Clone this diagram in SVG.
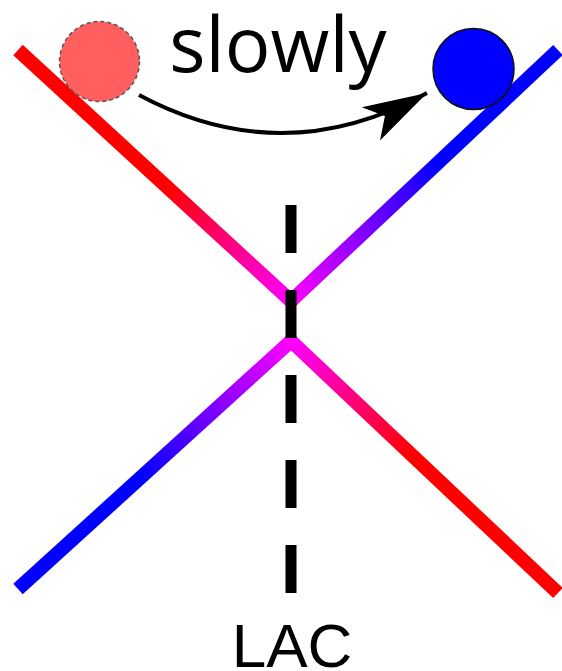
<svg xmlns="http://www.w3.org/2000/svg" width="562" height="671" viewBox="0 0 562 671">
<style>
.br{fill:none;stroke-width:14;stroke-linecap:butt}
.lbl{font-family:"Open Sans","DejaVu Sans",sans-serif;fill:#000}
.lac{font-family:"Liberation Sans",Arial,sans-serif;fill:#000}
</style>
<defs>
<linearGradient id="gUL" gradientUnits="userSpaceOnUse" x1="18" y1="50" x2="291" y2="301"><stop offset="0" stop-color="#ff0000"/><stop offset="0.55" stop-color="#ff0000"/><stop offset="1" stop-color="#ff00ff"/></linearGradient>
<linearGradient id="gUR" gradientUnits="userSpaceOnUse" x1="558" y1="50" x2="291" y2="301"><stop offset="0" stop-color="#0000ff"/><stop offset="0.45" stop-color="#0000ff"/><stop offset="1" stop-color="#ff00ff"/></linearGradient>
<linearGradient id="gLL" gradientUnits="userSpaceOnUse" x1="18" y1="589" x2="291" y2="341"><stop offset="0" stop-color="#0000ff"/><stop offset="0.45" stop-color="#0000ff"/><stop offset="1" stop-color="#ff00ff"/></linearGradient>
<linearGradient id="gLR" gradientUnits="userSpaceOnUse" x1="558" y1="593" x2="291" y2="341"><stop offset="0" stop-color="#ff0000"/><stop offset="0.55" stop-color="#ff0000"/><stop offset="1" stop-color="#ff00ff"/></linearGradient>
<marker id="ah" markerUnits="userSpaceOnUse" markerWidth="70" markerHeight="44" refX="64" refY="20" orient="auto" viewBox="0 0 70 40"><path d="M0,1 L64,20 L0,39 L16,20 Z" fill="#000"/></marker>
</defs>
<g id="curves">
<path id="upper-left" class="br" d="M18,50 L291,301" stroke="url(#gUL)"/>
<path id="upper-right" class="br" d="M558,50 L291,301" stroke="url(#gUR)"/>
<circle cx="291" cy="301" r="7" fill="#ff00ff"/>
<path id="lower-left" class="br" d="M18,589 L291,341" stroke="url(#gLL)"/>
<path id="lower-right" class="br" d="M558,593 L291,341" stroke="url(#gLR)"/>
<circle cx="291" cy="341" r="7" fill="#ff00ff"/>
</g>
<g id="lac-line">
<line x1="291" y1="205" x2="291" y2="594" stroke="#000" stroke-width="11" stroke-dasharray="48 37"/>
<text class="lac" x="292" y="667" font-size="62" text-anchor="middle">LAC</text>
</g>
<g id="state-start">
<circle cx="99.5" cy="61.5" r="40" fill="#ff5f5f" stroke="#555" stroke-width="1.5" stroke-dasharray="4 3"/>
</g>
<g id="state-end">
<circle cx="473.5" cy="69" r="40.5" fill="#0000ff" stroke="#111" stroke-width="1.5"/>
</g>
<g id="connectors">
<path d="M139,95 Q283,172 427,93" fill="none" stroke="#000" stroke-width="4" marker-end="url(#ah)"/>
</g>
<text class="lbl" x="278" y="72" font-size="76" text-anchor="middle">slowly</text>
</svg>
